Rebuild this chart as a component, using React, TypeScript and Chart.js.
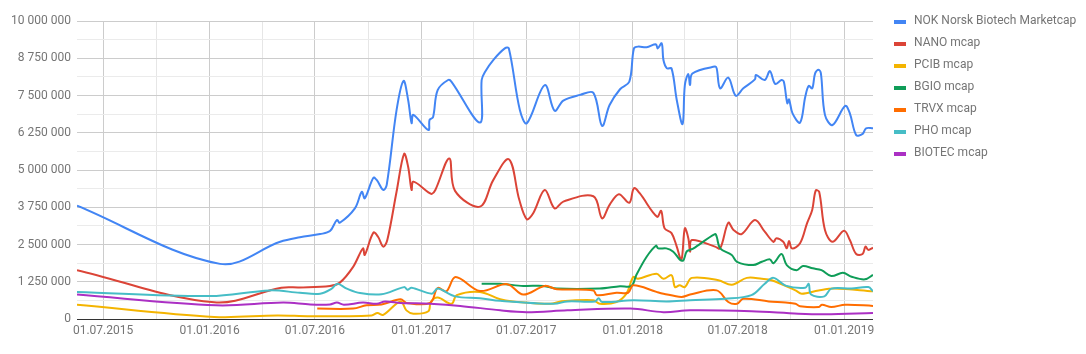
import React, { useEffect, useRef } from 'react';
import { Chart, registerables } from 'chart.js';

Chart.register(...registerables);

// ---------- data ----------
const seriesNames = [
  'NOK Norsk Biotech Marketcap',
  'NANO mcap',
  'PCIB mcap',
  'BGIO mcap',
  'TRVX mcap',
  'PHO mcap',
  'BIOTEC mcap',
];
const seriesColors = ['#4285f4', '#db4437', '#f4b400', '#0f9d58', '#ff6d00', '#46bdc6', '#ab30c4'];

// values in millions
const nokDates = ['2015-05-17','2016-01-19','2016-05-02','2016-06-05','2016-07-10','2016-07-27','2016-08-08','2016-08-13','2016-09-08','2016-09-20','2016-09-25','2016-10-10','2016-10-16','2016-10-27','2016-11-02','2016-11-19','2016-12-01','2016-12-09','2016-12-15','2016-12-18','2017-01-13','2017-01-15','2017-01-21','2017-01-29','2017-02-16','2017-02-22','2017-04-12','2017-04-15','2017-04-21','2017-05-05','2017-05-25','2017-06-01','2017-06-20','2017-07-02','2017-08-02','2017-08-19','2017-09-03','2017-10-02','2017-10-25','2017-11-09','2017-11-22','2017-12-10','2017-12-26','2018-01-03','2018-01-10','2018-01-25','2018-02-10','2018-02-13','2018-02-20','2018-02-23','2018-03-01','2018-03-09','2018-03-18','2018-03-28','2018-04-01','2018-04-07','2018-04-10','2018-04-14','2018-05-23','2018-05-26','2018-06-01','2018-06-15','2018-06-28','2018-07-11','2018-07-31','2018-08-02','2018-08-17','2018-08-26','2018-09-04','2018-09-15','2018-09-19','2018-09-25','2018-09-28','2018-10-04','2018-10-17','2018-10-26','2018-11-01','2018-11-07','2018-11-12','2018-11-18','2018-11-22','2018-11-29','2018-12-12','2019-01-03','2019-01-11','2019-01-22','2019-02-02','2019-02-08','2019-02-20'];
const nokValues = [3.80,1.85,2.59,2.74,2.85,2.95,3.32,3.23,3.71,4.27,4.05,4.74,4.66,4.33,4.50,7.01,7.99,7.35,6.57,6.85,6.34,6.68,6.77,7.68,8.02,7.96,6.59,8.02,8.30,8.69,9.08,9.08,7.01,6.57,7.85,6.99,7.33,7.52,7.59,6.48,7.18,7.71,7.96,9.08,9.14,9.12,9.22,9.08,9.25,8.69,8.41,8.41,7.35,6.54,7.85,8.22,7.85,8.24,8.47,8.41,7.74,8.10,7.49,7.74,8.04,8.19,8.02,8.32,7.89,8.02,7.96,7.24,7.37,6.90,6.59,7.46,7.82,7.74,8.24,8.36,8.24,6.85,6.51,7.15,6.90,6.17,6.21,6.40,6.40];

const nanoDates = ['2015-05-17','2016-01-09','2016-05-04','2016-06-05','2016-07-27','2016-08-13','2016-09-05','2016-09-22','2016-09-25','2016-10-10','2016-10-18','2016-10-27','2016-11-03','2016-11-19','2016-12-02','2016-12-09','2016-12-15','2016-12-18','2017-01-13','2017-01-19','2017-01-25','2017-02-18','2017-02-28','2017-04-12','2017-05-05','2017-06-01','2017-06-19','2017-07-02','2017-07-13','2017-08-02','2017-08-19','2017-09-03','2017-10-25','2017-11-09','2017-11-22','2017-12-08','2017-12-26','2018-01-03','2018-01-13','2018-02-12','2018-02-19','2018-02-25','2018-03-09','2018-03-18','2018-03-26','2018-04-01','2018-04-07','2018-04-10','2018-04-13','2018-05-23','2018-06-01','2018-06-15','2018-06-24','2018-07-08','2018-07-31','2018-08-17','2018-09-01','2018-09-06','2018-09-18','2018-09-24','2018-09-28','2018-10-03','2018-10-17','2018-10-29','2018-11-07','2018-11-13','2018-11-19','2018-11-29','2018-12-12','2019-01-01','2019-01-11','2019-01-22','2019-02-02','2019-02-07','2019-02-12','2019-02-20'];
const nanoValues = [1.64,0.56,1.05,1.06,1.11,1.22,1.75,2.37,2.15,2.90,2.76,2.43,2.65,4.27,5.54,5.11,4.33,4.61,4.25,4.20,4.33,5.39,4.30,3.77,4.66,5.36,4.00,3.35,3.55,4.33,3.71,3.94,4.12,3.38,3.83,4.19,3.90,4.39,4.22,3.43,3.63,3.04,2.88,2.43,1.98,3.04,2.71,2.26,2.65,2.43,2.37,3.23,2.99,2.85,3.32,2.93,2.59,2.71,2.59,2.37,2.62,2.37,2.54,3.21,3.66,4.31,4.27,2.99,2.59,2.96,2.65,2.18,2.18,2.43,2.32,2.39];

const pcibDates = ['2015-05-17','2016-01-09','2016-04-27','2016-06-23','2016-10-07','2016-10-17','2016-10-27','2016-11-26','2016-12-06','2016-12-18','2017-01-13','2017-01-17','2017-01-29','2017-02-22','2017-03-03','2017-04-12','2017-05-17','2017-06-08','2017-08-12','2017-08-29','2017-10-25','2017-11-05','2017-12-04','2017-12-21','2018-01-02','2018-01-10','2018-02-11','2018-02-23','2018-03-09','2018-03-15','2018-03-23','2018-04-01','2018-04-13','2018-05-29','2018-06-21','2018-07-17','2018-08-12','2018-08-29','2018-10-09','2018-10-20','2018-11-18','2018-12-16','2019-02-20'];
const pcibValues = [0.48,0.07,0.12,0.09,0.12,0.20,0.14,0.59,0.29,0.18,0.26,0.57,0.72,0.51,0.80,0.91,0.66,0.59,0.51,0.59,0.63,0.51,0.57,0.85,1.41,1.35,1.52,1.35,1.47,1.07,1.13,1.07,1.38,1.30,1.15,1.38,1.35,1.30,0.96,0.85,0.96,1.02,0.93];

const bgioDates = ['2017-04-15','2017-05-17','2017-06-26','2017-07-31','2017-08-23','2017-11-05','2017-12-10','2017-12-30','2018-01-07','2018-01-25','2018-02-10','2018-02-14','2018-02-28','2018-03-12','2018-03-23','2018-03-29','2018-04-04','2018-04-10','2018-04-16','2018-05-23','2018-05-26','2018-06-01','2018-06-21','2018-06-30','2018-07-28','2018-08-12','2018-08-26','2018-09-01','2018-09-15','2018-09-24','2018-10-11','2018-10-22','2018-11-08','2018-11-23','2018-12-10','2018-12-30','2019-01-14','2019-02-06','2019-02-20'];
const bgioValues = [1.18,1.18,1.11,1.11,1.02,1.02,1.10,1.11,1.47,2.09,2.46,2.37,2.37,2.26,2.00,1.96,2.26,2.32,2.37,2.85,2.76,2.37,2.15,1.92,1.81,1.92,2.00,1.87,2.18,1.81,1.64,1.78,1.70,1.64,1.44,1.55,1.42,1.33,1.48];

const trvxDates = ['2016-07-05','2016-09-05','2016-09-28','2016-10-24','2016-11-26','2016-12-06','2017-01-16','2017-01-29','2017-02-13','2017-03-01','2017-04-12','2017-05-29','2017-06-26','2017-08-02','2017-08-23','2017-10-25','2017-10-31','2017-12-04','2017-12-24','2018-01-02','2018-02-11','2018-02-23','2018-03-26','2018-04-10','2018-05-26','2018-06-15','2018-06-30','2018-07-11','2018-08-24','2018-09-22','2018-10-09','2018-10-17','2018-11-18','2018-11-24','2018-12-10','2019-01-03','2019-02-20'];
const trvxValues = [0.35,0.35,0.46,0.49,0.66,0.54,0.54,1.04,0.93,1.41,0.94,1.17,0.82,1.11,1.00,0.96,0.80,0.88,0.88,1.13,0.91,0.85,0.74,0.82,0.96,0.57,0.51,0.68,0.59,0.55,0.51,0.43,0.40,0.48,0.40,0.48,0.44];

const phoDates = ['2015-05-17','2016-01-02','2016-04-14','2016-06-05','2016-07-10','2016-07-30','2016-08-09','2016-08-25','2016-09-17','2016-10-24','2016-12-02','2016-12-08','2016-12-15','2017-01-19','2017-01-29','2017-02-28','2017-04-12','2017-05-17','2017-08-18','2017-09-10','2017-10-28','2017-11-03','2017-11-09','2018-01-02','2018-02-28','2018-04-10','2018-06-10','2018-07-25','2018-08-17','2018-09-01','2018-09-22','2018-10-26','2018-11-01','2018-11-05','2018-11-28','2018-12-10','2019-01-14','2019-02-12','2019-02-20'];
const phoValues = [0.91,0.77,0.96,0.88,0.85,1.02,1.18,1.02,0.87,0.83,1.07,0.98,1.05,0.85,1.02,0.76,0.70,0.61,0.51,0.59,0.59,0.70,0.57,0.63,0.59,0.63,0.68,0.80,1.18,1.38,1.12,1.05,1.18,0.82,0.76,1.02,1.02,1.07,0.93];

const biotecDates = ['2015-05-17','2016-01-12','2016-05-07','2016-06-23','2016-07-27','2016-08-08','2016-08-20','2016-09-22','2016-10-16','2016-10-30','2016-11-26','2017-01-16','2017-03-09','2017-05-17','2017-07-02','2017-09-10','2017-12-28','2018-02-23','2018-04-10','2018-07-25','2018-10-14','2018-11-29','2019-02-20'];
const biotecValues = [0.82,0.46,0.55,0.49,0.49,0.55,0.48,0.55,0.51,0.59,0.54,0.51,0.44,0.29,0.23,0.29,0.35,0.23,0.29,0.26,0.18,0.16,0.20];

const xRange = ['2015-05-17', '2019-02-20'];
const xTickDates = ['2015-07-01','2015-10-01','2016-01-01','2016-04-01','2016-07-01','2016-10-01','2017-01-01','2017-04-01','2017-07-01','2017-10-01','2018-01-01','2018-04-01','2018-07-01','2018-10-01','2019-01-01'];
const xTickLabels = ['01.07.2015','','01.01.2016','','01.07.2016','','01.01.2017','','01.07.2017','','01.01.2018','','01.07.2018','','01.01.2019'];
const yMax = 10000000;
const yMinorStep = 625000;
const yMajorStep = 1250000;
const yTickLabels = ['0','1 250 000','2 500 000','3 750 000','5 000 000','6 250 000','7 500 000','8 750 000','10 000 000'];

const allDates = [nokDates, nanoDates, pcibDates, bgioDates, trvxDates, phoDates, biotecDates];
const allValues = [nokValues, nanoValues, pcibValues, bgioValues, trvxValues, phoValues, biotecValues];

// ---------- helpers ----------
const toTime = (s: string) => Date.UTC(+s.slice(0, 4), +s.slice(5, 7) - 1, +s.slice(8, 10));
const TEXT = '#757575';
const FONT = 'Roboto';

const sideLegend = {
  id: 'sideLegend',
  afterDraw(chart: any) {
    const { ctx, chartArea } = chart;
    const x0 = chartArea.right + 21;
    ctx.save();
    ctx.font = `12px ${FONT}`;
    ctx.textBaseline = 'middle';
    ctx.textAlign = 'left';
    chart.data.datasets.forEach((ds: any, i: number) => {
      const cy = chartArea.top + i * 22;
      ctx.fillStyle = ds.borderColor;
      ctx.fillRect(x0, cy - 1, 12, 4);
      ctx.fillStyle = TEXT;
      ctx.fillText(ds.label, x0 + 20, cy);
    });
    ctx.restore();
  },
};

export default function App() {
  const ref = useRef<HTMLCanvasElement | null>(null);

  useEffect(() => {
    document.body.style.margin = '0';
    const canvas = ref.current;
    if (!canvas) return;

    const datasets = seriesNames.map((name, i) => ({
      label: name,
      data: allDates[i].map((d, j) => ({ x: toTime(d), y: allValues[i][j] * 1000000 })),
      borderColor: seriesColors[i],
      backgroundColor: seriesColors[i],
      borderWidth: 2,
      pointRadius: 0,
      tension: 0.35,
      fill: false,
      order: seriesNames.length - i,
    }));

    const chart = new Chart(canvas, {
      type: 'line',
      data: { datasets },
      options: {
        animation: false,
        responsive: false,
        devicePixelRatio: 1,
        parsing: false,
        layout: { padding: { top: 21, right: 213, left: 0, bottom: 0 } },
        plugins: { legend: { display: false }, tooltip: { enabled: false } },
        scales: {
          x: {
            type: 'linear',
            min: toTime(xRange[0]),
            max: toTime(xRange[1]),
            afterBuildTicks: (scale: any) => {
              scale.ticks = xTickDates.map((d) => ({ value: toTime(d) }));
            },
            afterFit: (scale: any) => {
              scale.height = 35;
            },
            ticks: {
              autoSkip: false,
              maxRotation: 0,
              minRotation: 0,
              padding: 5,
              color: TEXT,
              font: { family: FONT, size: 12 },
              callback: (_v: any, index: number) => xTickLabels[index],
            },
            grid: {
              drawTicks: false,
              color: (c: any) => (xTickLabels[c.index] ? '#cccccc' : '#e6e6e6'),
            },
            border: { display: false },
          },
          y: {
            min: 0,
            max: yMax,
            afterFit: (scale: any) => {
              scale.width = 77;
            },
            ticks: {
              stepSize: yMinorStep,
              autoSkip: false,
              padding: 6,
              color: TEXT,
              font: { family: FONT, size: 12 },
              callback: (v: any) => (v % yMajorStep === 0 ? yTickLabels[Math.round(v / yMajorStep)] : ''),
            },
            grid: {
              drawTicks: false,
              color: (c: any) =>
                c.tick && c.tick.value === 0 ? '#333333' : c.tick && c.tick.value % yMajorStep === 0 ? '#cccccc' : '#ebebeb',
            },
            border: { display: false },
          },
        },
      },
      plugins: [sideLegend],
    });

    return () => chart.destroy();
  }, []);

  return <canvas ref={ref} width={1086} height={354} style={{ display: 'block' }} />;
}
